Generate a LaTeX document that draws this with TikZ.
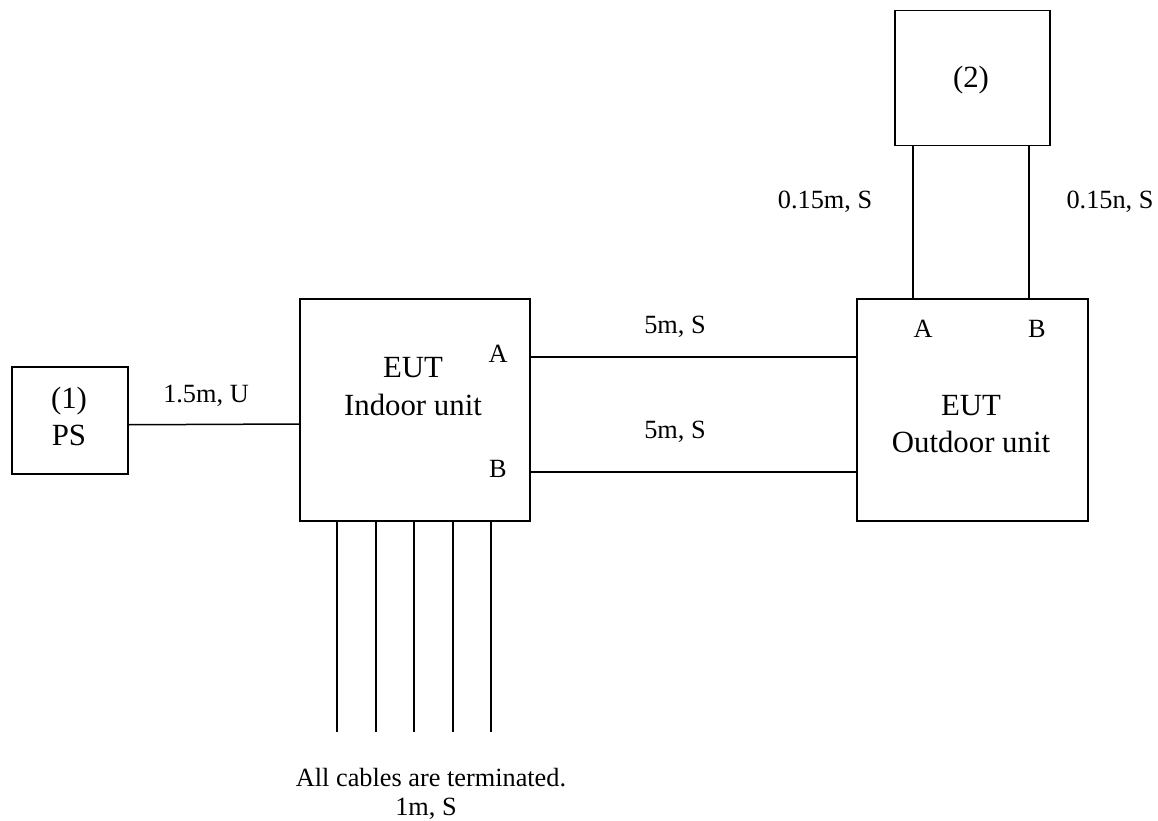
\documentclass[tikz,border=0pt]{standalone}
\usepackage{fontspec}
\setmainfont{Liberation Serif}
\begin{document}
\begin{tikzpicture}[x=1pt,y=-1pt,
  box/.style={draw,line width=1.5pt,inner sep=0pt,anchor=north west},
  wire/.style={line width=1.5pt},
  small/.style={font=\fontsize{26.3}{30}\selectfont,inner sep=0pt,anchor=base},
  big/.style={font=\fontsize{30.8}{37}\selectfont,inner sep=0pt,anchor=base}]
\useasboundingbox (0,0) rectangle (1158,821);
% boxes
\node[box,minimum width=116pt,minimum height=107pt] (ps) at (11,366) {};
\node[box,minimum width=230pt,minimum height=222pt] (indoor) at (299,298) {};
\node[box,minimum width=231pt,minimum height=222pt] (outdoor) at (856,298) {};
\node[box,minimum width=155pt,minimum height=135pt] (aux) at (894,10) {};
% texts inside boxes
\node[big] (t1) at (69,408) {(1)};
\node[big] (tps) at (69,445) {PS};
\node[big] (ieut) at (413,377) {EUT};
\node[big] (iname) at (413,415) {Indoor unit};
\node[small] (iA) at (498,362) {A};
\node[small] (iB) at (498,477) {B};
\node[big] (oeut) at (971,415) {EUT};
\node[big] (oname) at (971,452) {Outdoor unit};
\node[small] (oA) at (923,337) {A};
\node[small] (oB) at (1037,337) {B};
\node[big] (t2) at (971,88) {(2)};
% connectors
\draw[wire] ([yshift=-4.5pt]ps.east) -- (indoor.west |- 0,424);
\draw[wire] (indoor.east |- 0,357) -- (outdoor.west |- 0,357);
\draw[wire] (indoor.east |- 0,472) -- (outdoor.west |- 0,472);
\draw[wire] (aux.south -| 913,0) -- (outdoor.north -| 913,0);
\draw[wire] (aux.south -| 1029,0) -- (outdoor.north -| 1029,0);
\foreach \i/\x in {1/337,2/376,3/414,4/453,5/491}{
  \coordinate (e\i) at (\x,732);
  \draw[wire] (indoor.south -| e\i) -- (e\i);
}
% labels
\node[small] (l15) at (206,402) {1.5m, U};
\node[small] (l5a) at (675,333) {5m, S};
\node[small] (l5b) at (675,438) {5m, S};
\node[small] (l015a) at (825,208) {0.15m, S};
\node[small] (l015b) at (1110,208) {0.15n, S};
\node[small] (lall) at (431,786) {All cables are terminated.};
\node[small] (l1m) at (426,815) {1m, S};
\end{tikzpicture}
\end{document}
